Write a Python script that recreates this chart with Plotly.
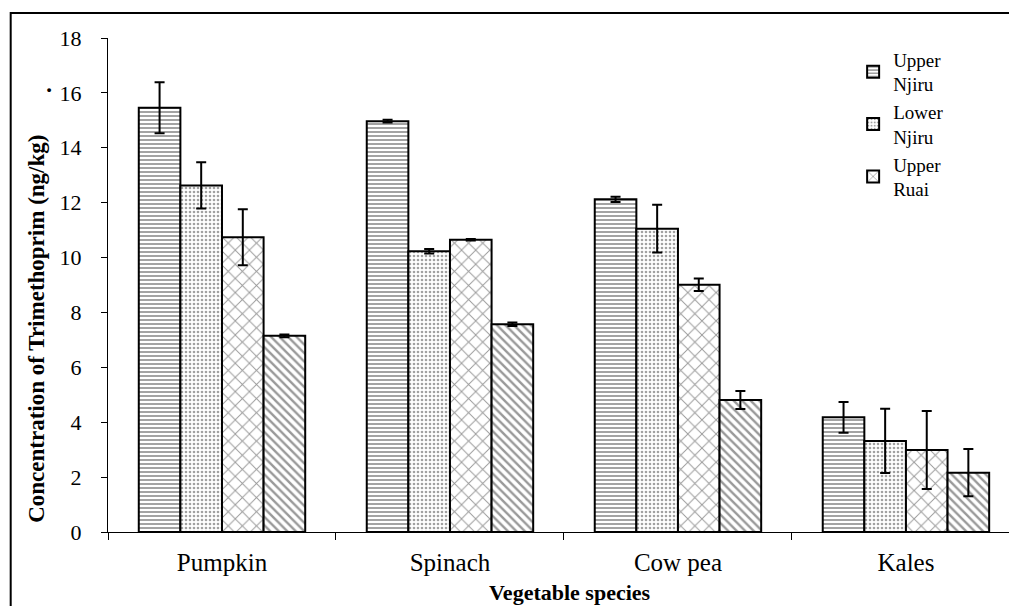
import plotly.graph_objects as go

categories = ["Pumpkin", "Spinach", "Cow pea", "Kales"]
series_names = ["Upper<br>Njiru", "Lower<br>Njiru", "Upper<br>Ruai", "Lower Ruai"]
upper_njiru = [15.46, 14.97, 12.12, 4.18]
upper_njiru_err = [0.93, 0.05, 0.10, 0.56]
lower_njiru = [12.63, 10.23, 11.05, 3.32]
lower_njiru_err = [0.84, 0.08, 0.87, 1.17]
upper_ruai = [10.74, 10.65, 9.01, 2.99]
upper_ruai_err = [1.02, 0.03, 0.23, 1.42]
lower_ruai = [7.15, 7.57, 4.81, 2.16]
lower_ruai_err = [0.05, 0.06, 0.33, 0.86]
y_ticks = [0, 2, 4, 6, 8, 10, 12, 14, 16, 18]

values = [upper_njiru, lower_njiru, upper_ruai, lower_ruai]
errors = [upper_njiru_err, lower_njiru_err, upper_ruai_err, lower_ruai_err]
patterns = [
    dict(shape="-", fgcolor="#333333", bgcolor="white", size=4, solidity=0.45),
    dict(shape=".", fgcolor="#444444", bgcolor="white", size=4, solidity=0.35),
    dict(shape="x", fgcolor="#333333", bgcolor="white", size=10, solidity=0.18),
    dict(shape="\\", fgcolor="#333333", bgcolor="white", size=6, solidity=0.4),
]

FONT = "Liberation Serif"

fig = go.Figure()
for i in range(4):
    fig.add_trace(go.Bar(
        x=categories, y=values[i], name=series_names[i],
        showlegend=(i < 3),
        marker=dict(color="white", line=dict(color="black", width=2), pattern=patterns[i]),
        error_y=dict(type="data", array=errors[i], visible=True, color="black", thickness=2, width=5),
    ))

fig.update_layout(
    width=1009, height=606,
    margin=dict(l=108, r=0, t=38, b=74),
    paper_bgcolor="white", plot_bgcolor="white",
    barmode="group", bargap=0.27, bargroupgap=0,
    font=dict(family=FONT, size=20, color="black"),
    legend=dict(x=0.827, y=0.995, xanchor="left", yanchor="top",
                bgcolor="rgba(0,0,0,0)", font=dict(family=FONT, size=19),
                tracegroupgap=0, itemwidth=30),
    xaxis=dict(range=[-0.5, 3.452], showline=True, linecolor="black", linewidth=1,
               ticks="outside", tickson="boundaries", ticklen=7, tickcolor="black",
               tickfont=dict(family=FONT, size=25), ticklabelstandoff=8, showgrid=False),
    yaxis=dict(range=[0, 18], tickvals=y_ticks, showline=True, linecolor="black", linewidth=1,
               ticks="outside", ticklen=6, tickcolor="black", showgrid=False, zeroline=False,
               tickfont=dict(family=FONT, size=22), ticklabelstandoff=15),
)

fig.add_annotation(text="<b>Vegetable species</b>", xref="paper", yref="paper",
                   x=0.513, y=-0.122, xanchor="center", yanchor="middle", showarrow=False,
                   font=dict(family=FONT, size=22))

fig.add_annotation(text="<b>Concentration of Trimethoprim (ng/kg)</b>",
                   xref="paper", yref="paper", textangle=-90,
                   x=-0.079, y=0.411, xanchor="center", yanchor="middle", showarrow=False,
                   font=dict(family=FONT, size=23))
fig.add_annotation(text="<b>.</b>", xref="paper", yref="paper", textangle=-90,
                   x=-0.071, y=0.895, xanchor="center", yanchor="middle", showarrow=False,
                   font=dict(family=FONT, size=23))

# outer frame of the figure (top and left visible)
fig.add_shape(type="rect", xref="paper", yref="paper",
              x0=-0.108, x1=1.1, y0=-0.2, y1=1.0506,
              line=dict(color="black", width=2), fillcolor="rgba(0,0,0,0)", layer="above")

fig.write_html("out.html", config={"displayModeBar": False},
               post_script="document.body.style.margin='0';")
